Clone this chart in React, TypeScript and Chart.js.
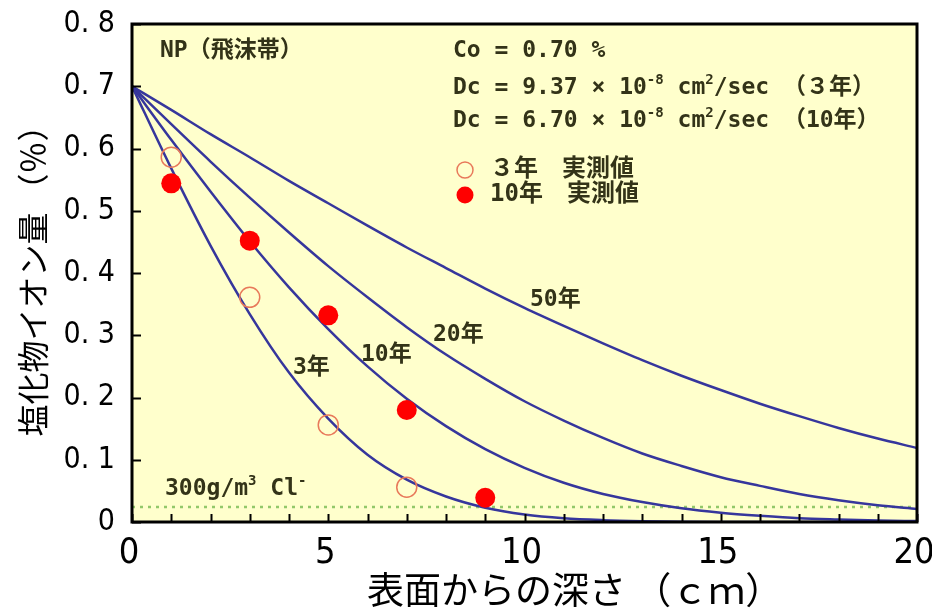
import { useEffect, useRef } from 'react';
import { Chart, registerables } from 'chart.js';

Chart.register(...registerables);

// ---- data ----
const curveDepths = [0, 1, 2, 3, 4, 5, 6, 7, 8, 9, 10, 11, 12, 13, 14, 15, 16, 17, 18, 19, 20];
const curve3yr = [0.700, 0.568, 0.444, 0.334, 0.240, 0.166, 0.108, 0.068, 0.041, 0.023, 0.012, 0.006, 0.003, 0.0014, 0.0006, 0.0002, 0.0001, 0, 0, 0, 0];
const curve10yr = [0.700, 0.614, 0.531, 0.451, 0.377, 0.310, 0.250, 0.198, 0.154, 0.117, 0.087, 0.063, 0.045, 0.032, 0.022, 0.015, 0.010, 0.006, 0.004, 0.0025, 0.0015];
const curve20yr = [0.700, 0.639, 0.579, 0.521, 0.465, 0.411, 0.361, 0.313, 0.269, 0.230, 0.194, 0.163, 0.135, 0.110, 0.090, 0.072, 0.058, 0.045, 0.035, 0.027, 0.021];
const curve50yr = [0.700, 0.662, 0.623, 0.586, 0.548, 0.512, 0.476, 0.441, 0.408, 0.375, 0.344, 0.315, 0.287, 0.260, 0.235, 0.212, 0.190, 0.170, 0.151, 0.134, 0.119];

const measuredDepths3yr = [1, 3, 5, 7];
const measured3yr = [0.586, 0.361, 0.156, 0.056];
const measuredDepths10yr = [1, 3, 5, 7, 9];
const measured10yr = [0.544, 0.452, 0.332, 0.180, 0.039];

const thresholdDepths = [0, 20];
const thresholdLevel = [0.024, 0.024];

const xTickValues = [0, 5, 10, 15, 20];
const xTickLabels = ['0', '5', '10', '15', '20'];
const yTickValues = [0, 0.1, 0.2, 0.3, 0.4, 0.5, 0.6, 0.7, 0.8];
const yTickLabels = ['0', '0. 1', '0. 2', '0. 3', '0. 4', '0. 5', '0. 6', '0. 7', '0. 8'];

const xTitle = '表面からの深さ （ｃｍ）';
const yTitle = '塩化物イオン量 （％）';

// ---- styles ----
const CURVE = '#36369C';
const TEXT = '#333318';
const NARROW = '"Liberation Sans Narrow", "DejaVu Sans Condensed", "Noto Sans", sans-serif';
const ANNO = '"DejaVu Sans Mono", "Noto Sans CJK JP", sans-serif';
const CJK = '"Noto Sans CJK JP", sans-serif';

type Seg = { t: string; sup?: boolean };

function drawRich(ctx: CanvasRenderingContext2D, x: number, y: number, segs: Seg[], size: number) {
  let cx = x;
  for (const s of segs) {
    ctx.font = s.sup ? `bold ${Math.round(size * 0.6)}px ${ANNO}` : `bold ${size}px ${ANNO}`;
    ctx.fillText(s.t, cx, s.sup ? y - size * 0.35 : y);
    cx += ctx.measureText(s.t).width;
  }
}

const bgPlugin = {
  id: 'plotBg',
  beforeDatasetsDraw(chart: any) {
    const { ctx, chartArea: a } = chart;
    ctx.save();
    ctx.fillStyle = '#FFFFCC';
    ctx.fillRect(a.left, a.top, a.right - a.left, a.bottom - a.top);
    ctx.restore();
  },
};

const framePlugin = {
  id: 'frameAndText',
  afterDatasetsDraw(chart: any) {
    const { ctx, chartArea: a, scales } = chart;
    const xs = scales.x;
    const ys = scales.y;
    ctx.save();
    // inner ticks
    ctx.strokeStyle = '#000';
    ctx.lineWidth = 2;
    ctx.beginPath();
    for (let v = xs.min; v <= xs.max; v += 1) {
      const px = Math.round(xs.getPixelForValue(v)) + 0.5;
      ctx.moveTo(px, a.bottom);
      ctx.lineTo(px, a.bottom - 8);
    }
    for (const v of yTickValues) {
      const py = Math.round(ys.getPixelForValue(v)) + 0.5;
      ctx.moveTo(a.left, py);
      ctx.lineTo(a.left + 9, py);
    }
    ctx.stroke();
    // frame
    ctx.lineWidth = 3;
    ctx.strokeStyle = '#000';
    ctx.strokeRect(a.left, a.top, a.right - a.left, a.bottom - a.top);

    // annotations
    ctx.fillStyle = TEXT;
    ctx.textBaseline = 'middle';
    ctx.textAlign = 'left';
    drawRich(ctx, 160, 51, [{ t: 'NP（飛沫帯）' }], 23);
    drawRich(ctx, 453, 51, [{ t: 'Co = 0.70 %' }], 23);
    drawRich(ctx, 453, 88, [{ t: 'Dc = 9.37 × 10' }, { t: '-8', sup: true }, { t: ' cm' }, { t: '2', sup: true }, { t: '/sec （３年）' }], 23);
    drawRich(ctx, 453, 121, [{ t: 'Dc = 6.70 × 10' }, { t: '-8', sup: true }, { t: ' cm' }, { t: '2', sup: true }, { t: '/sec （10年）' }], 23);

    // legend
    ctx.beginPath();
    ctx.arc(465, 170, 8, 0, Math.PI * 2);
    ctx.strokeStyle = '#E8795A';
    ctx.lineWidth = 1.5;
    ctx.stroke();
    ctx.beginPath();
    ctx.arc(465, 195, 8.5, 0, Math.PI * 2);
    ctx.fillStyle = '#FF0000';
    ctx.fill();
    ctx.fillStyle = TEXT;
    drawRich(ctx, 490, 170, [{ t: '３年　実測値' }], 24);
    drawRich(ctx, 490, 195, [{ t: '10年　実測値' }], 24);

    // curve labels
    drawRich(ctx, 530, 300, [{ t: '50年' }], 23);
    drawRich(ctx, 433, 335, [{ t: '20年' }], 23);
    drawRich(ctx, 361, 355, [{ t: '10年' }], 23);
    drawRich(ctx, 293, 368, [{ t: '3年' }], 23);

    drawRich(ctx, 165, 489, [{ t: '300g/m' }, { t: '3', sup: true }, { t: ' Cl' }, { t: '-', sup: true }], 23);

    // x axis title
    ctx.fillStyle = '#000';
    ctx.font = `37px ${CJK}`;
    ctx.fillText(xTitle, 367, 590);
    ctx.restore();
  },
};

export default function App() {
  const ref = useRef<HTMLCanvasElement>(null);
  useEffect(() => {
    const canvas = ref.current;
    if (!canvas) return;
    const toPts = (xs: number[], ys: number[]) => xs.map((x, i) => ({ x, y: ys[i] }));
    const lineDs = (label: string, ys: number[]) => ({
      label,
      data: toPts(curveDepths, ys),
      showLine: true,
      borderColor: CURVE,
      borderWidth: 2.5,
      pointRadius: 0,
      cubicInterpolationMode: 'monotone' as const,
      fill: false,
    });
    const chart = new Chart(canvas, {
      type: 'scatter',
      data: {
        datasets: [
          {
            label: '10年 実測値',
            data: toPts(measuredDepths10yr, measured10yr),
            pointRadius: 10,
            pointBackgroundColor: '#FF0000',
            pointBorderColor: '#FF0000',
            pointBorderWidth: 0,
            showLine: false,
          },
          {
            label: '3年 実測値',
            data: toPts(measuredDepths3yr, measured3yr),
            pointRadius: 10,
            pointBackgroundColor: 'rgba(0,0,0,0)',
            pointBorderColor: '#E8795A',
            pointBorderWidth: 1.5,
            showLine: false,
          },
          lineDs('3年', curve3yr),
          lineDs('10年', curve10yr),
          lineDs('20年', curve20yr),
          lineDs('50年', curve50yr),
          {
            label: '300g/m3 Cl-',
            data: toPts(thresholdDepths, thresholdLevel),
            showLine: true,
            borderColor: '#92C86A',
            borderWidth: 2.5,
            borderDash: [3, 5],
            pointRadius: 0,
          },
        ] as any,
      },
      options: {
        responsive: true,
        maintainAspectRatio: false,
        animation: false,
        layout: { padding: { top: 24, right: 15, left: 0, bottom: 0 } },
        plugins: { legend: { display: false }, tooltip: { enabled: false } },
        scales: {
          x: {
            type: 'linear',
            min: 0,
            max: 20,
            afterFit: (s: any) => {
              s.height = 87;
              s.paddingLeft = 0;
              s.paddingRight = 0;
            },
            afterBuildTicks: (s: any) => { s.ticks = xTickValues.map((v) => ({ value: v })); },
            ticks: {
              callback: (_v: any, i: number) => xTickLabels[i],
              font: { family: NARROW, size: 36 },
              color: '#000',
              padding: 10,
              labelOffset: -3,
              maxRotation: 0,
              autoSkip: false,
            },
            grid: { display: false, drawTicks: false },
            border: { display: false },
            title: { display: false },
          },
          y: {
            type: 'linear',
            min: 0,
            max: 0.8,
            afterFit: (s: any) => {
              s.width = 132;
              s.paddingTop = 0;
              s.paddingBottom = 0;
            },
            afterBuildTicks: (s: any) => { s.ticks = yTickValues.map((v) => ({ value: v })); },
            ticks: {
              callback: (_v: any, i: number) => yTickLabels[i],
              font: { family: NARROW, size: 30 },
              color: '#000',
              padding: 17,
              autoSkip: false,
            },
            grid: { display: false, drawTicks: false },
            border: { display: false },
            title: {
              display: true,
              text: yTitle,
              color: '#000',
              font: { family: CJK, size: 32, lineHeight: 1 },
              padding: { top: 17, bottom: 0 },
            },
          },
        },
      },
      plugins: [bgPlugin, framePlugin],
    });
    return () => chart.destroy();
  }, []);
  return (
    <div style={{ position: 'absolute', left: 0, top: 0, width: 932, height: 609 }}>
      <canvas ref={ref} />
    </div>
  );
}
